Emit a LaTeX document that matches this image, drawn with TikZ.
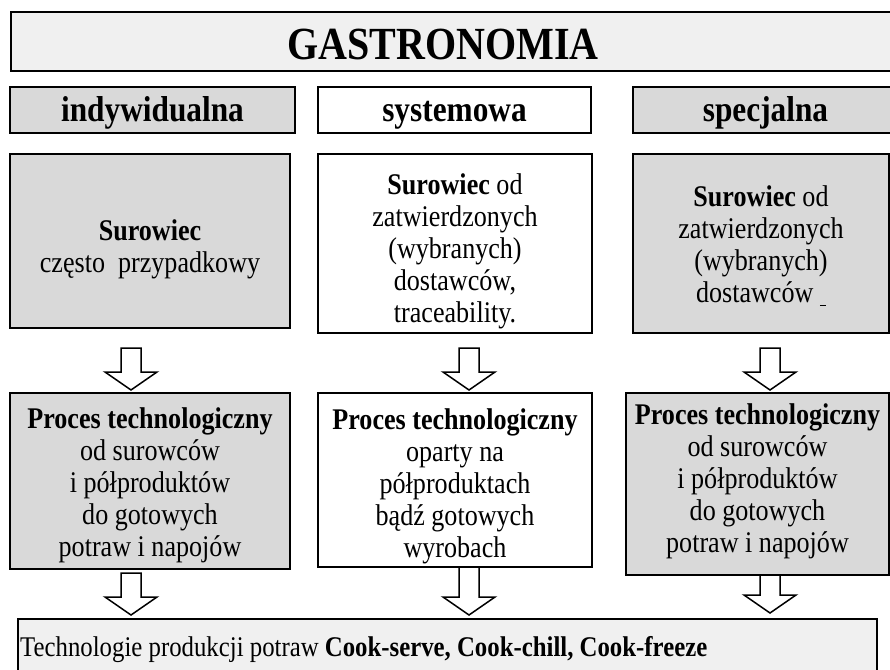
\documentclass[tikz,border=0pt]{standalone}
\usepackage{fontspec}
\setmainfont{Liberation Serif}[FakeStretch=0.87]
\usetikzlibrary{calc}

\tikzset{
  box/.style={draw, rectangle, line width=1.5pt, inner sep=0pt, align=center},
  greybox/.style={box, fill=gray!30},
  lightbox/.style={box, fill=gray!12},
  whitebox/.style={box, fill=white},
  blk/.style={draw, line width=1.5pt, fill=white, line join=miter},
  bigtxt/.style={font=\fontsize{46}{50}\selectfont\bfseries},
  headtxt/.style={font=\fontsize{36}{40}\selectfont\bfseries, text height=28pt, text depth=6pt},
  bodytxt/.style={font=\fontsize{30}{32}\selectfont, align=center, inner sep=0pt}
}

% hollow block arrow from #1 (top) to #2 (tip)
\newcommand{\blockarrow}[2]{%
  \draw[blk] let \p1=(#1), \p2=(#2) in
    (\x1-10pt,\y1) -- (\x1-10pt,\y2+18pt) -- (\x1-26pt,\y2+18pt) -- (\x2,\y2)
    -- (\x1+26pt,\y2+18pt) -- (\x1+10pt,\y2+18pt) -- (\x1+10pt,\y1) -- cycle;}

\begin{document}
\begin{tikzpicture}[x=1pt, y=-1pt]
        \useasboundingbox (0,0) rectangle (890,669);
        \clip (0,0) rectangle (890,669);
        % title
        \node[lightbox, minimum width=900pt, minimum height=59pt, anchor=west] (title) at (10,41.5) {};
        \node[bigtxt] (gastro) at (443,44) {GASTRONOMIA};

        % three kinds
        \node[greybox, headtxt, minimum width=285pt, minimum height=46pt] (indyw) at (152.5,110) {indywidualna};
        \node[whitebox, headtxt, minimum width=273pt, minimum height=46pt] (system) at (454.5,110) {systemowa};
        \node[greybox, headtxt, minimum width=265pt, minimum height=46pt] (special) at (765.5,110) {specjalna};

        % raw material
        \node[greybox, minimum width=280pt, minimum height=174pt] (raw1) at (150,241) {};
        \node[whitebox, minimum width=274pt, minimum height=179pt] (raw2) at (455,243.5) {};
        \node[greybox, minimum width=256pt, minimum height=179pt] (raw3) at (761,243.5) {};
        \node[bodytxt] (raw1txt) at (150,249) {\textbf{Surowiec}\\często\ \ przypadkowy};
        \node[bodytxt] (raw2txt) at (455,251) {\textbf{Surowiec} od\\zatwierdzonych\\(wybranych)\\dostawców,\\traceability.};
        \node[bodytxt] (raw3txt) at (761,246) {\textbf{Surowiec} od\\zatwierdzonych\\(wybranych)\\dostawców \rule[-3pt]{6pt}{1pt}};

        % process
        \node[greybox, minimum width=280pt, minimum height=176pt] (proc1) at (150,481) {};
        \node[whitebox, minimum width=274pt, minimum height=174pt] (proc2) at (455,480) {};
        \node[greybox, minimum width=263pt, minimum height=182pt] (proc3) at (757.5,484) {};
        \node[bodytxt] (proc1txt) at (150,485) {\textbf{Proces technologiczny}\\od surowców\\i półproduktów\\do gotowych\\potraw i napojów};
        \node[bodytxt] (proc2txt) at (455,486) {\textbf{Proces technologiczny}\\oparty na\\półproduktach\\bądź gotowych\\wyrobach};
        \node[bodytxt] (proc3txt) at (757.5,481) {\textbf{Proces technologiczny}\\od surowców\\i półproduktów\\do gotowych\\potraw i napojów};

        % technologies
        \node[lightbox, minimum width=859pt, minimum height=91pt] (tech) at (447.5,664.5) {};
        \node[font=\fontsize{28.5}{32}\selectfont, anchor=west, inner sep=0pt] (techtxt) at (20,650)
            {Technologie produkcji potraw \textbf{Cook-serve, Cook-chill, Cook-freeze}};

        % block arrows
        \foreach \k/\x/\ya/\yb in {1/131/348/390, 2/469/348/390, 3/770/348/390,
                                   4/131/573/615, 5/469/567/615, 6/770/575/613} {
            \coordinate (from\k) at (\x,\ya);
            \coordinate (to\k) at (\x,\yb);
            \blockarrow{from\k}{to\k}
        }
    \end{tikzpicture}
\end{document}
